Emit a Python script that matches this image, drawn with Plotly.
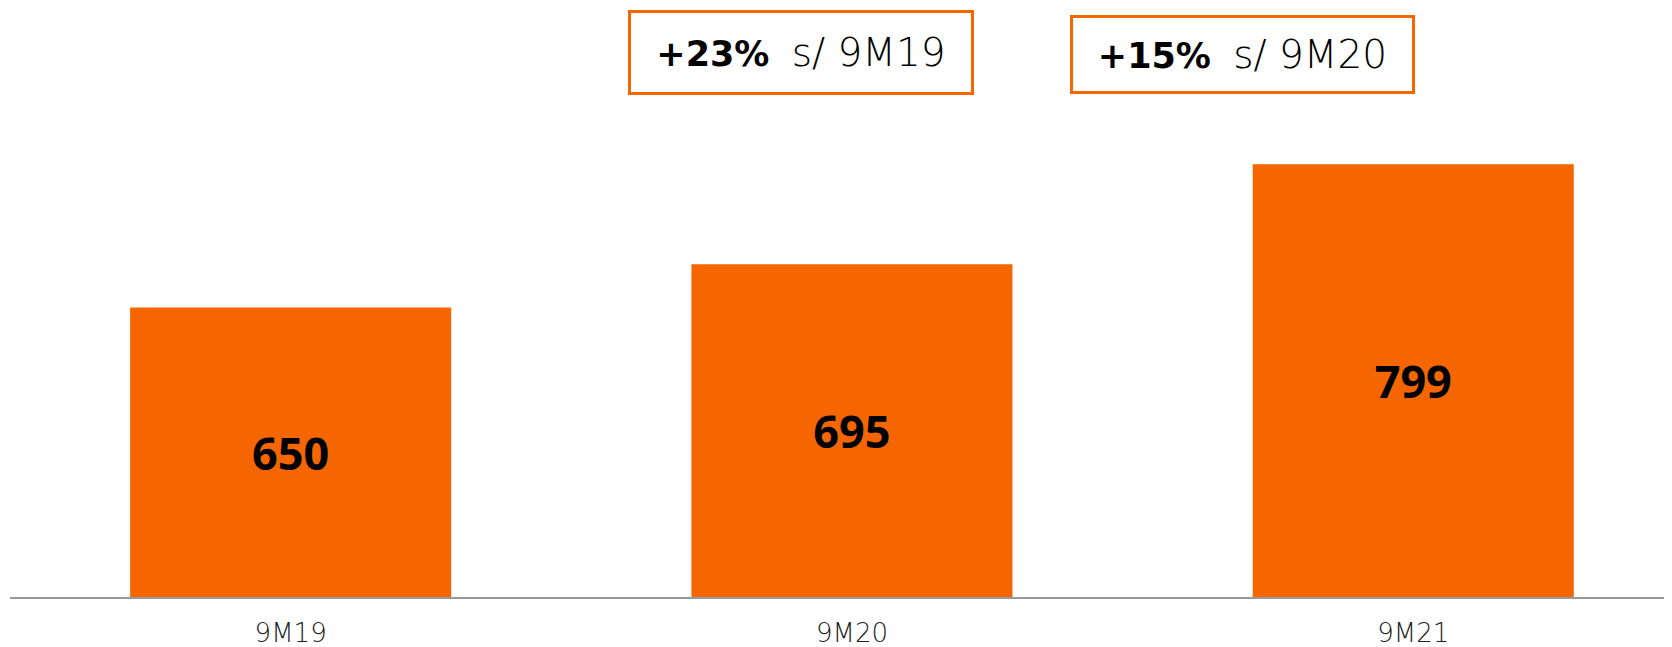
import plotly.graph_objects as go

categories = ["9M19", "9M20", "9M21"]
values = [650, 695, 799]
growth_labels = ["+23%", "+15%"]
growth_refs = ["s/ 9M19", "s/ 9M20"]

ORANGE = "#F56600"
# page has an 8px body margin; size the figure to fit the window
W, H = 1664, 639
ML, MR, MT, MB = 2, 0, 0, 50
y_min = 349
px_per_unit = 0.9617
plot_h = H - MT - MB
y_max = y_min + plot_h / px_per_unit
cat_px = 561.3
x_max = -0.5 + (W - ML - MR) / cat_px

fig = go.Figure()
fig.add_trace(go.Bar(
    x=categories,
    y=[v - y_min for v in values],
    base=[y_min] * len(values),
    marker=dict(color=ORANGE, line=dict(width=0)),
    text=[str(v) for v in values],
    textposition="inside",
    insidetextanchor="middle",
    textangle=0,
    textfont=dict(family="Noto Sans", size=45, color="#000000", weight="bold"),
    hoverinfo="skip",
))

OFF = 8  # page offset

def px_to_paper_x(px):
    return (px - OFF - ML) / (W - ML - MR)

def px_to_paper_y(py):
    return 1 - (py - OFF - MT) / plot_h

boxes = [
    dict(cx=800.5, cy=53.0, w=340, h=79),
    dict(cx=1242.0, cy=54.5, w=339, h=73),
]
for (g, r, b) in zip(growth_labels, growth_refs, boxes):
    fig.add_annotation(
        x=px_to_paper_x(b["cx"]), y=px_to_paper_y(b["cy"]),
        xref="paper", yref="paper", xanchor="center", yanchor="middle",
        text=(f"<b>{g}</b>\u00a0\u00a0"
              f"<span style='font-size:39px;font-weight:300'>{r}</span>"),
        showarrow=False,
        font=dict(family="DejaVu Sans", size=35, color="#000000"),
        width=b["w"], height=b["h"],
        bordercolor=ORANGE, borderwidth=3, borderpad=0,
        bgcolor="#ffffff",
    )

fig.update_layout(
    width=W, height=H,
    margin=dict(l=ML, r=MR, t=MT, b=MB),
    paper_bgcolor="#ffffff", plot_bgcolor="#ffffff",
    bargap=0.428,
    showlegend=False,
    xaxis=dict(
        type="category", range=[-0.5, x_max],
        showline=True, linecolor="#999999", linewidth=2,
        showgrid=False, zeroline=False, ticks="",
        ticklabelstandoff=12,
        tickfont=dict(family="DejaVu Sans", size=26, color="#222222", weight=300),
        fixedrange=True,
    ),
    yaxis=dict(
        range=[y_min, y_max], visible=False, showgrid=False, zeroline=False,
        fixedrange=True,
    ),
)

fig.write_html("out.html")
